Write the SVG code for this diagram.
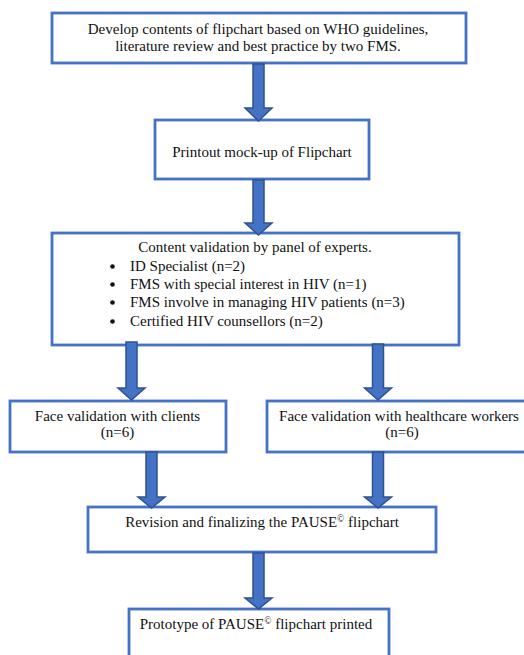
<svg xmlns="http://www.w3.org/2000/svg" width="524" height="655" viewBox="0 0 524 655">
<style>
.box{fill:#fff;stroke:#4472C4;stroke-width:2.8}
.t{font-family:"Liberation Serif","Times New Roman",serif;font-size:15px;fill:#111}
.c{text-anchor:middle}
.dot{fill:#111}
.arr{fill:#4472C4;stroke:#2F528F;stroke-width:1.5;stroke-linejoin:miter}
.sup{font-size:9.5px}
</style>
<rect width="524" height="655" fill="#fff"/>
<g id="n1">
<rect class="box" x="52" y="13" width="414" height="50"/>
<text class="t c" x="258" y="34">Develop contents of flipchart based on WHO guidelines,</text>
<text class="t c" x="258" y="51">literature review and best practice by two FMS.</text>
</g>
<g id="n2">
<rect class="box" x="155" y="120" width="214" height="59"/>
<text class="t c" x="262" y="157">Printout mock-up of Flipchart</text>
</g>
<g id="n3">
<rect class="box" x="52" y="233" width="407" height="112"/>
<text class="t c" x="255" y="252">Content validation by panel of experts.</text>
<circle class="dot" cx="112.5" cy="266.5" r="2.3"/><text class="t" x="130" y="271">ID Specialist (n=2)</text>
<circle class="dot" cx="112.5" cy="284.5" r="2.3"/><text class="t" x="130" y="289">FMS with special interest in HIV (n=1)</text>
<circle class="dot" cx="112.5" cy="302.5" r="2.3"/><text class="t" x="130" y="307">FMS involve in managing HIV patients (n=3)</text>
<circle class="dot" cx="112.5" cy="321.5" r="2.3"/><text class="t" x="130" y="326">Certified HIV counsellors (n=2)</text>
</g>
<g id="n4">
<rect class="box" x="10" y="401" width="216" height="51"/>
<text class="t c" x="117.5" y="421">Face validation with clients</text>
<text class="t c" x="117.5" y="437">(n=6)</text>
</g>
<g id="n5">
<rect class="box" x="267" y="401" width="265" height="51"/>
<text class="t c" x="399" y="421">Face validation with healthcare workers</text>
<text class="t c" x="402" y="437">(n=6)</text>
</g>
<g id="n6">
<rect class="box" x="88" y="507" width="348" height="45"/>
<text class="t c" x="262" y="527">Revision and finalizing the PAUSE<tspan class="sup" dy="-5">©</tspan><tspan dy="5"> flipchart</tspan></text>
</g>
<g id="n7">
<rect class="box" x="129" y="609" width="260" height="55"/>
<text class="t c" x="256" y="629">Prototype of PAUSE<tspan class="sup" dy="-5">©</tspan><tspan dy="5"> flipchart printed</tspan></text>
</g>
<g id="connectors">
<polygon class="arr" points="253,64 264,64 264,108 272,108 258.5,121 245,108 253,108"/>
<polygon class="arr" points="253,180 264,180 264,223 272,223 258.5,235 245,223 253,223"/>
<polygon class="arr" points="126,342 137,342 137,388 145,388 131.5,400 118,388 126,388"/>
<polygon class="arr" points="372.5,344 383.5,344 383.5,388 391.5,388 378,400 364.5,388 372.5,388"/>
<polygon class="arr" points="146,452 157,452 157,497 165,497 151.5,508 138,497 146,497"/>
<polygon class="arr" points="372.5,452 383.5,452 383.5,497 391.5,497 378,508 364.5,497 372.5,497"/>
<polygon class="arr" points="253,553 264,553 264,598 272,598 258.5,609 245,598 253,598"/>
</g>
</svg>
